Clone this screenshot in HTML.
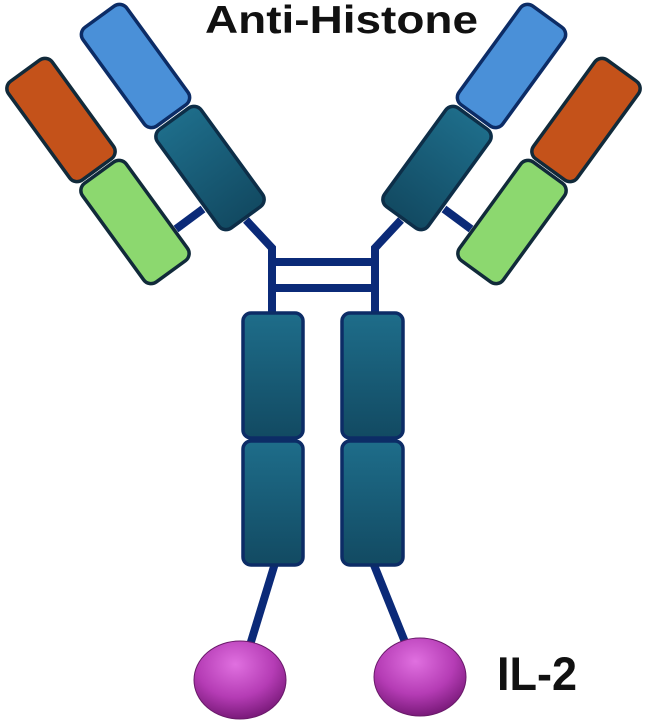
<!DOCTYPE html>
<html><head><style>body{margin:0;background:#fff}svg{display:block}</style></head><body>
<svg width="651" height="725" viewBox="0 0 651 725" xmlns="http://www.w3.org/2000/svg">
<defs>
<linearGradient id="tl" x1="0" y1="0" x2="0" y2="1"><stop offset="0" stop-color="#1e6d8a"/><stop offset="1" stop-color="#124a62"/></linearGradient>
<radialGradient id="pk" cx="0.45" cy="0.3" r="0.7"><stop offset="0" stop-color="#e070e0"/><stop offset="0.6" stop-color="#b53cb5"/><stop offset="1" stop-color="#7a1a7a"/></radialGradient>
<g id="arm">
<line x1="176" y1="229" x2="203" y2="209" stroke="#0b2a78" stroke-width="8"/>
<polyline points="246,220 272,248 272,315" fill="none" stroke="#0b2a78" stroke-width="8"/>
<rect x="-27" y="-61" width="54" height="122" rx="9" fill="#4a90d8" stroke="#0c2c66" stroke-width="3.5" transform="translate(135.5,66) rotate(-36)"/>
<rect x="-27" y="-61" width="54" height="122" rx="9" fill="url(#tl)" stroke="#0d2e48" stroke-width="3.5" transform="translate(210,168) rotate(-36)"/>
<rect x="-27" y="-61" width="54" height="122" rx="9" fill="#c4521a" stroke="#112a3a" stroke-width="3.5" transform="translate(61,120) rotate(-36)"/>
<rect x="-27" y="-61" width="54" height="122" rx="9" fill="#8cd86f" stroke="#112a3a" stroke-width="3.5" transform="translate(135,222) rotate(-36)"/>
</g>
</defs>
<use href="#arm"/>
<use href="#arm" transform="translate(647,0) scale(-1,1)"/>
<line x1="272" y1="262" x2="375" y2="262" stroke="#0b2a78" stroke-width="8"/>
<line x1="272" y1="288" x2="375" y2="288" stroke="#0b2a78" stroke-width="8"/>
<line x1="276" y1="560" x2="250" y2="645" stroke="#0b2a78" stroke-width="8"/>
<line x1="372" y1="560" x2="405" y2="642" stroke="#0b2a78" stroke-width="8"/>
<g stroke="#0c2c66" stroke-width="3.5" fill="url(#tl)">
<rect x="243" y="313" width="60" height="125" rx="8"/>
<rect x="243" y="441" width="60" height="124" rx="8"/>
<rect x="342" y="313" width="61" height="125" rx="8"/>
<rect x="342" y="441" width="61" height="124" rx="8"/>
</g>
<ellipse cx="240" cy="680" rx="46" ry="39" fill="url(#pk)" stroke="#6a1a6a" stroke-width="1"/>
<ellipse cx="420" cy="677" rx="46" ry="39" fill="url(#pk)" stroke="#6a1a6a" stroke-width="1"/>
<text x="205" y="33" textLength="273" lengthAdjust="spacingAndGlyphs" font-family="Liberation Sans, sans-serif" font-weight="bold" font-size="39" fill="#111">Anti-Histone</text>
<text x="497" y="690" textLength="80" lengthAdjust="spacingAndGlyphs" font-family="Liberation Sans, sans-serif" font-weight="bold" font-size="47" fill="#111">IL-2</text>
</svg>
</body></html>
